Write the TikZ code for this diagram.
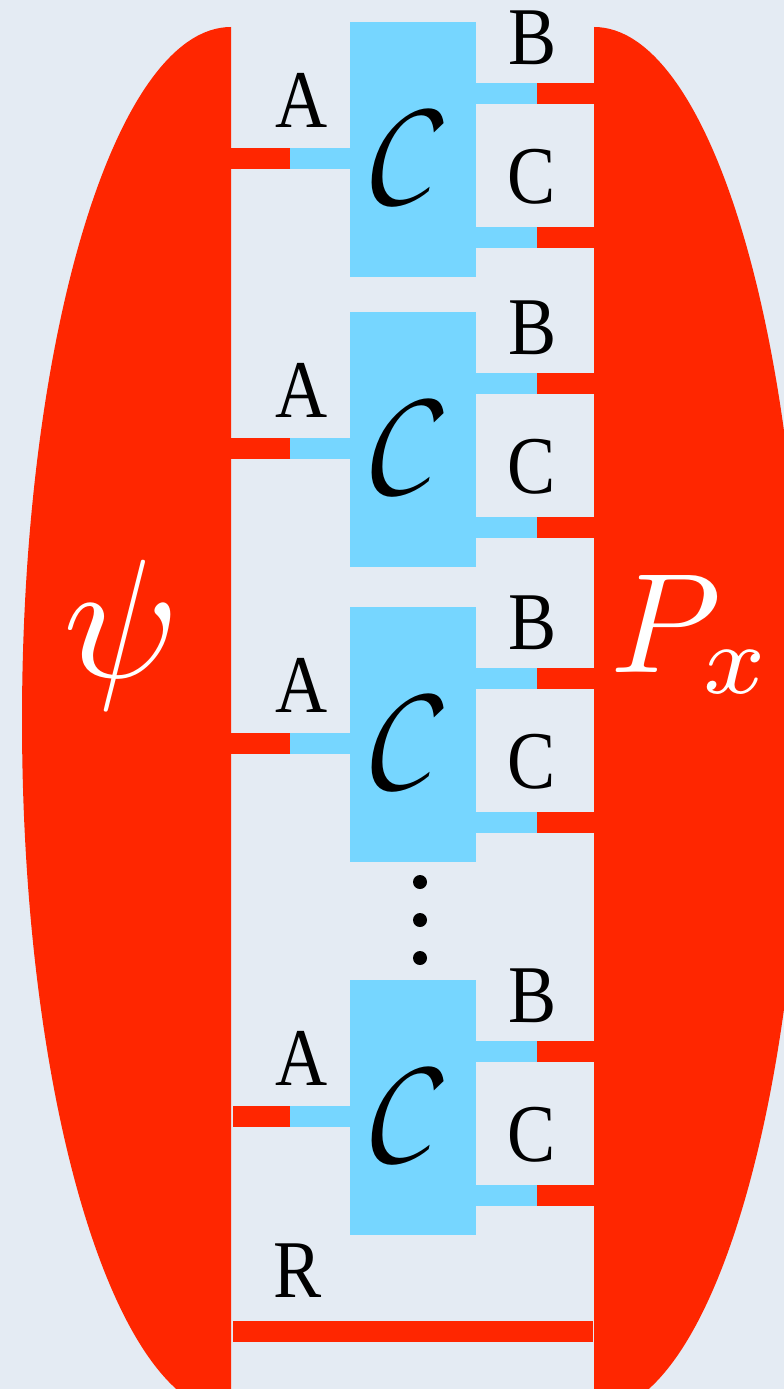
\documentclass[tikz,border=0pt]{standalone}
\usepackage[T1]{fontenc}
\usepackage{fontspec}
\usepackage{amsmath}
\setmainfont{Liberation Serif}
\newfontfamily\labfont[FakeStretch=0.88]{Liberation Serif}
\usetikzlibrary{positioning}
\definecolor{bgpaper}{RGB}{228,235,243}
\definecolor{tred}{RGB}{255,38,0}
\definecolor{tblue}{RGB}{118,214,255}
\newcommand{\chanc}{\fontencoding{T1}\fontfamily{pzc}\fontseries{m}\fontshape{it}\fontsize{140}{150}\selectfont}

\begin{document}
\begin{tikzpicture}[x=1pt, y=-1pt,
  tensor/.style={fill=tblue, minimum width=126pt, minimum height=255pt,
                 inner sep=0pt, anchor=north west},
  bwire/.style={draw=tblue, line width=21pt},
  rwire/.style={draw=tred, line width=21pt},
  leg/.style={font=\labfont\fontsize{82}{82}\selectfont, inner sep=0pt, anchor=base},
  big/.style={text=white, inner sep=0pt, anchor=base}
]
  \fill[bgpaper] (0,0) rectangle (784,1389);
  \useasboundingbox (0,0) rectangle (784,1389);
  \begin{scope}
    \clip (0,0) rectangle (231,1389);
    \fill[tred] (231,720) ellipse [x radius=209pt, y radius=693pt];
  \end{scope}
  \begin{scope}
    \clip (594,0) rectangle (784,1389);
    \fill[tred] (594,720) ellipse [x radius=209pt, y radius=693pt];
  \end{scope}
  \coordinate (psiedge) at (231,0);
  \coordinate (pxedge) at (594,0);
  \node[big, scale=16.9] (psi) at (122,677) {$\psi$};
  \node[big, scale=14.2, anchor=base west] (px) at (608,672) {$P_x$};

  \foreach \T/\g [count=\i] in {22/0, 312/0, 607/0, 980/2} {
    \node[tensor] (t\i) at (350,\T) {};
    \node[font=\chanc, inner sep=0pt, xscale=0.94, yscale=1.06] (c\i) at (395,\T+130) {C};
    \coordinate (a\i) at (290,\T+136);
    \coordinate (b\i) at (537,\T+71);
    \coordinate (k\i) at (537,\T+215);
    \draw[bwire] (t\i.west |- a\i) -- (a\i);
    \draw[rwire, shorten >=\g pt] (a\i) -- (a\i -| psiedge);
    \draw[bwire] (t\i.east |- b\i) -- (b\i);
    \draw[rwire] (b\i) -- (b\i -| pxedge);
    \draw[bwire] (t\i.east |- k\i) -- (k\i);
    \draw[rwire] (k\i) -- (k\i -| pxedge);
    \node[leg] (la\i) at (302,\T+105) {A};
    \node[leg] (lb\i) at (533,\T+42) {B};
    \node[leg] (lc\i) at (532,\T+181) {C};
  }

  \foreach \k in {0,1,2}
    \fill (420,882+38*\k) circle (7pt);

  \node[leg] (lr) at (298,1297) {R};
  \coordinate (r) at (413,1331);
  \draw[rwire, shorten <=2pt, shorten >=1pt] (r -| psiedge) -- (r -| pxedge);
\end{tikzpicture}
\end{document}
